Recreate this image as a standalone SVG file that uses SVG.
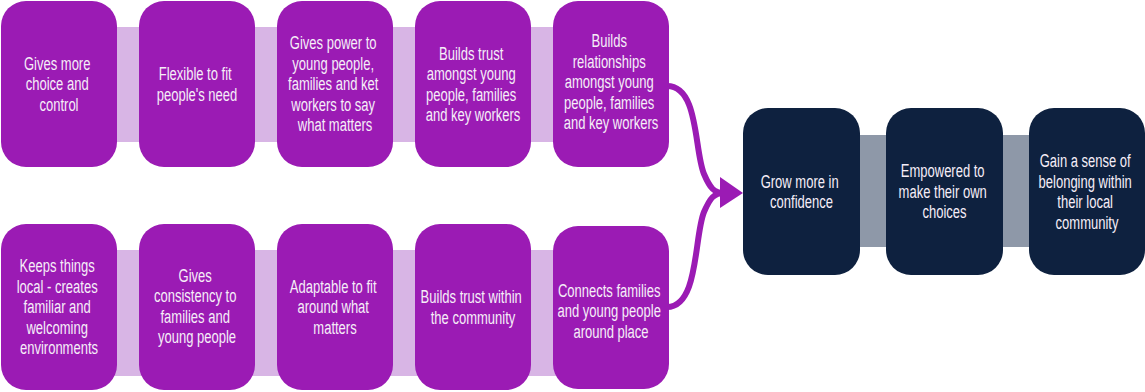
<svg xmlns="http://www.w3.org/2000/svg" width="1145" height="392" viewBox="0 0 1145 392">
  <style>
    .bandP { fill: #d8b5e5; }
    .bandD { fill: #8e98a8; }
    .boxP { fill: #9b1bb4; }
    .boxD { fill: #0e213f; }
    .lbl { font-family: "Liberation Sans", Arial, sans-serif; font-size: 19px; fill: #f6eef8; text-anchor: middle; }
    .flow { fill: none; stroke: #9b1bb4; stroke-width: 6; stroke-linecap: butt; }
    .head { fill: #9b1bb4; }
  </style>

  <rect width="1145" height="392" fill="#ffffff"/>

  <!-- background bands linking each row -->
  <rect class="bandP" x="60" y="27" width="550" height="115"/>
  <rect class="bandP" x="60" y="250" width="550" height="126"/>
  <rect class="bandD" x="800" y="135" width="290" height="112"/>

  <!-- top row -->
  <g id="t1">
    <rect class="boxP" x="1" y="1" width="116" height="166" rx="25"/>
    <text class="lbl" transform="translate(59 0) scale(0.685 1)">
      <tspan x="0" y="70">Gives more</tspan>
      <tspan x="0" y="90.5">choice and</tspan>
      <tspan x="0" y="111">control</tspan>
    </text>
  </g>
  <g id="t2">
    <rect class="boxP" x="139" y="1" width="116" height="166" rx="25"/>
    <text class="lbl" transform="translate(197 0) scale(0.685 1)">
      <tspan x="0" y="80.25">Flexible to fit</tspan>
      <tspan x="0" y="100.75">people's need</tspan>
    </text>
  </g>
  <g id="t3">
    <rect class="boxP" x="277" y="1" width="116" height="166" rx="25"/>
    <text class="lbl" transform="translate(335 0) scale(0.685 1)">
      <tspan x="0" y="49.5">Gives power to</tspan>
      <tspan x="0" y="70">young people,</tspan>
      <tspan x="0" y="90.5">families and ket</tspan>
      <tspan x="0" y="111">workers to say</tspan>
      <tspan x="0" y="131.5">what matters</tspan>
    </text>
  </g>
  <g id="t4">
    <rect class="boxP" x="415" y="1" width="116" height="166" rx="25"/>
    <text class="lbl" transform="translate(473 0) scale(0.685 1)">
      <tspan x="0" y="59.75">Builds trust</tspan>
      <tspan x="0" y="80.25">amongst young</tspan>
      <tspan x="0" y="100.75">people, families</tspan>
      <tspan x="0" y="121.25">and key workers</tspan>
    </text>
  </g>
  <g id="t5">
    <rect class="boxP" x="553" y="1" width="116" height="166" rx="25"/>
    <text class="lbl" transform="translate(611 0) scale(0.685 1)">
      <tspan x="0" y="47.5">Builds</tspan>
      <tspan x="0" y="68">relationships</tspan>
      <tspan x="0" y="88.5">amongst young</tspan>
      <tspan x="0" y="109">people, families</tspan>
      <tspan x="0" y="129.5">and key workers</tspan>
    </text>
  </g>

  <!-- bottom row -->
  <g id="b1">
    <rect class="boxP" x="1" y="224" width="116" height="166" rx="25"/>
    <text class="lbl" transform="translate(59 0) scale(0.685 1)">
      <tspan x="0" y="272.5">Keeps things</tspan>
      <tspan x="0" y="293">local - creates</tspan>
      <tspan x="0" y="313.5">familiar and</tspan>
      <tspan x="0" y="334">welcoming</tspan>
      <tspan x="0" y="354.5">environments</tspan>
    </text>
  </g>
  <g id="b2">
    <rect class="boxP" x="139" y="224" width="116" height="166" rx="25"/>
    <text class="lbl" transform="translate(197 0) scale(0.685 1)">
      <tspan x="0" y="282">Gives</tspan>
      <tspan x="0" y="302.5">consistency to</tspan>
      <tspan x="0" y="323">families and</tspan>
      <tspan x="0" y="343.5">young people</tspan>
    </text>
  </g>
  <g id="b3">
    <rect class="boxP" x="277" y="224" width="116" height="166" rx="25"/>
    <text class="lbl" transform="translate(335 0) scale(0.685 1)">
      <tspan x="0" y="293">Adaptable to fit</tspan>
      <tspan x="0" y="313.5">around what</tspan>
      <tspan x="0" y="334">matters</tspan>
    </text>
  </g>
  <g id="b4">
    <rect class="boxP" x="415" y="224" width="116" height="166" rx="25"/>
    <text class="lbl" transform="translate(473 0) scale(0.685 1)">
      <tspan x="0" y="303.25">Builds trust within</tspan>
      <tspan x="0" y="323.75">the community</tspan>
    </text>
  </g>
  <g id="b5">
    <rect class="boxP" x="553" y="226" width="116" height="163" rx="25"/>
    <text class="lbl" transform="translate(611 0) scale(0.685 1)">
      <tspan x="0" y="297">Connects families</tspan>
      <tspan x="0" y="317.5">and young people</tspan>
      <tspan x="0" y="338">around place</tspan>
    </text>
  </g>

  <!-- outcomes -->
  <g id="o1">
    <rect class="boxD" x="743" y="108" width="117" height="167" rx="25"/>
    <text class="lbl" transform="translate(801.5 0) scale(0.685 1)">
      <tspan x="0" y="187.75">Grow more in</tspan>
      <tspan x="0" y="208.25">confidence</tspan>
    </text>
  </g>
  <g id="o2">
    <rect class="boxD" x="886" y="108" width="117" height="167" rx="25"/>
    <text class="lbl" transform="translate(944.5 0) scale(0.685 1)">
      <tspan x="0" y="177.5">Empowered to</tspan>
      <tspan x="0" y="198">make their own</tspan>
      <tspan x="0" y="218.5">choices</tspan>
    </text>
  </g>
  <g id="o3">
    <rect class="boxD" x="1029" y="108" width="116" height="167" rx="25"/>
    <text class="lbl" transform="translate(1087 0) scale(0.685 1)">
      <tspan x="0" y="167.25">Gain a sense of</tspan>
      <tspan x="0" y="187.75">belonging within</tspan>
      <tspan x="0" y="208.25">their local</tspan>
      <tspan x="0" y="228.75">community</tspan>
    </text>
  </g>

  <!-- connectors: both rows merge into the outcomes -->
  <g id="connectors">
    <path class="flow" d="M667,86 C699,86 694,150 704,174 C710,188 714,193 724,193"/>
    <path class="flow" d="M667,307 C699,307 694,236 704,212 C710,198 714,193 724,193"/>
    <polygon class="head" points="720,177 743,193 720,208"/>
  </g>
</svg>
